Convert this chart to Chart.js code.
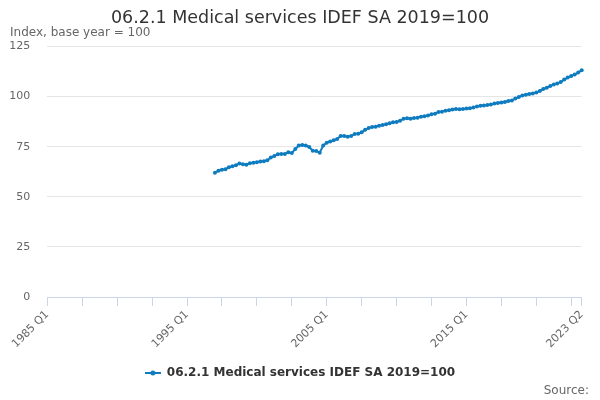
<!DOCTYPE html>
<html>
<head>
<meta charset="utf-8">
<script src="https://cdn.jsdelivr.net/npm/chart.js@4.4.0/dist/chart.umd.min.js"></script>
<style>
  html, body { margin: 0; padding: 0; background: #ffffff; }
  #wrap { width: 600px; height: 400px; position: relative; }
</style>
</head>
<body>
<div id="wrap"><canvas id="chart" width="600" height="400"></canvas></div>
<script>
// ---- Data ----
const titleText = '06.2.1 Medical services IDEF SA 2019=100';
const subtitleText = 'Index, base year = 100';
const sourceText = 'Source:';
const seriesName = '06.2.1 Medical services IDEF SA 2019=100';

const firstYear = 1985;
const lastYear = 2023;
const lastQuarter = 2;
const categories = [];
for (let y = firstYear; y <= lastYear; y++) {
  for (let q = 1; q <= 4; q++) {
    if (y === lastYear && q > lastQuarter) break;
    categories.push(y + ' Q' + q);
  }
}

const seriesStart = '1997 Q1';
const seriesValues = [
  62.0, 63.0, 63.5, 63.8, 64.8, 65.3, 65.8, 66.6, 66.2, 66.0,
  66.8, 67.0, 67.3, 67.6, 67.8, 68.2, 69.6, 70.4, 71.2, 71.3,
  71.4, 72.2, 71.9, 73.8, 75.6, 75.8, 75.6, 74.8, 73.0, 72.9,
  72.0, 75.6, 77.0, 77.6, 78.2, 78.9, 80.4, 80.3, 80.0, 80.4,
  81.3, 81.5, 82.2, 83.4, 84.3, 84.8, 85.0, 85.5, 85.8, 86.2,
  86.7, 87.2, 87.3, 88.0, 88.9, 89.2, 89.0, 89.3, 89.5, 90.0,
  90.2, 90.6, 91.2, 91.5, 92.3, 92.5, 93.0, 93.2, 93.6, 93.8,
  93.7, 93.8, 94.0, 94.2, 94.5, 95.0, 95.4, 95.6, 95.8, 96.0,
  96.5, 96.8, 97.0, 97.3, 97.8, 98.1, 99.0, 99.8, 100.5, 100.9,
  101.3, 101.6, 102.0, 102.8, 103.8, 104.4, 105.3, 106.0, 106.5, 107.3,
  108.5, 109.5, 110.3, 111.0, 112.0, 113.2
];

const yTicks = [0, 25, 50, 75, 100, 125];
const xLabelTicks = ['1985 Q1', '1995 Q1', '2005 Q1', '2015 Q1', '2023 Q2'];

// build series aligned to the categories
const startIdx = categories.indexOf(seriesStart);
const seriesData = categories.map((c, i) => {
  const k = i - startIdx;
  return (k >= 0 && k < seriesValues.length) ? seriesValues[k] : null;
});

// ---- Styles ----
const lineColor = '#0f7cc0';
Chart.defaults.font.family = "'DejaVu Sans', sans-serif";

// legend symbol: line with a marker
const sym = document.createElement('canvas');
sym.width = 16; sym.height = 8;
(function () {
  const c = sym.getContext('2d');
  c.strokeStyle = lineColor; c.lineWidth = 2;
  c.beginPath(); c.moveTo(0, 4); c.lineTo(16, 4); c.stroke();
  c.fillStyle = lineColor;
  c.beginPath(); c.arc(8, 4, 2.5, 0, Math.PI * 2); c.fill();
})();

const sourcePlugin = {
  id: 'sourceText',
  afterDraw(chart) {
    const ctx = chart.ctx;
    ctx.save();
    ctx.font = "12px 'DejaVu Sans', sans-serif";
    ctx.fillStyle = '#666666';
    ctx.textAlign = 'right';
    ctx.textBaseline = 'middle';
    ctx.fillText(sourceText, 589, 390.5);
    ctx.restore();
  }
};

new Chart(document.getElementById('chart'), {
  type: 'line',
  data: {
    labels: categories,
    datasets: [{
      label: seriesName,
      data: seriesData,
      borderColor: lineColor,
      backgroundColor: lineColor,
      borderWidth: 2,
      pointRadius: 2,
      pointBorderWidth: 0,
      pointBackgroundColor: lineColor,
      pointHoverRadius: 3,
      tension: 0,
      spanGaps: false,
      yAxisID: 'y'
    }]
  },
  options: {
    responsive: false,
    animation: false,
    layout: { padding: { left: 10, right: 10, top: 0, bottom: 11 } },
    plugins: {
      title: {
        display: true,
        text: titleText,
        color: '#333333',
        font: { size: 17.5, weight: 'normal', lineHeight: 1 },
        padding: { top: 9.5, bottom: 0 }
      },
      subtitle: {
        display: true,
        text: subtitleText,
        align: 'start',
        color: '#666666',
        font: { size: 12, weight: 'normal', lineHeight: 0.9 },
        padding: { top: 0, bottom: 8.7 }
      },
      legend: {
        display: true,
        position: 'bottom',
        labels: {
          color: '#333333',
          font: { size: 12, weight: 'bold' },
          usePointStyle: true,
          pointStyleWidth: 16,
          padding: 10,
          generateLabels(chart) {
            const items = Chart.defaults.plugins.legend.labels.generateLabels(chart);
            items.forEach(it => { it.pointStyle = sym; });
            return items;
          }
        }
      },
      tooltip: { enabled: false }
    },
    scales: {
      x: {
        type: 'category',
        offset: false,
        grid: {
          drawOnChartArea: false,
          drawTicks: true,
          tickLength: 9,
          color: '#ccd6eb'
        },
        border: { display: true, color: '#ccd6eb', width: 1 },
        ticks: {
          autoSkip: false,
          minRotation: 45,
          maxRotation: 45,
          padding: 2,
          color: '#666666',
          font: { size: 11 },
          callback(value) {
            const lab = this.getLabelForValue(value);
            return xLabelTicks.includes(lab) ? lab : '';
          }
        },
        afterBuildTicks(scale) {
          const last = categories.length - 1;
          scale.ticks = scale.ticks.filter(t => t.value % 10 === 0 || t.value === last);
        },
        afterFit(scale) {
          scale.height = 60;
          scale.paddingLeft = 0;
          scale.paddingRight = 0;
        }
      },
      y: {
        position: 'left',
        min: 0,
        max: 125,
        afterBuildTicks(scale) {
          scale.ticks = yTicks.map(v => ({ value: v }));
        },
        grid: {
          drawTicks: false,
          color: ctx => (ctx.tick && ctx.tick.value === 0) ? '#ccd6eb' : '#e6e6e6'
        },
        border: { display: false },
        ticks: {
          padding: 17,
          color: '#666666',
          font: { size: 11 }
        },
        afterFit(scale) {
          scale.width = 37.3;
          scale.paddingTop = 0;
          scale.paddingBottom = 0;
        }
      },
      yRightSpace: {
        type: 'linear',
        position: 'right',
        display: true,
        grid: { display: false, drawTicks: false },
        border: { display: false },
        ticks: { display: false },
        afterFit(scale) {
          scale.width = 8.3;
          scale.paddingTop = 0;
          scale.paddingBottom = 0;
        }
      }
    }
  },
  plugins: [sourcePlugin]
});
</script>
</body>
</html>
